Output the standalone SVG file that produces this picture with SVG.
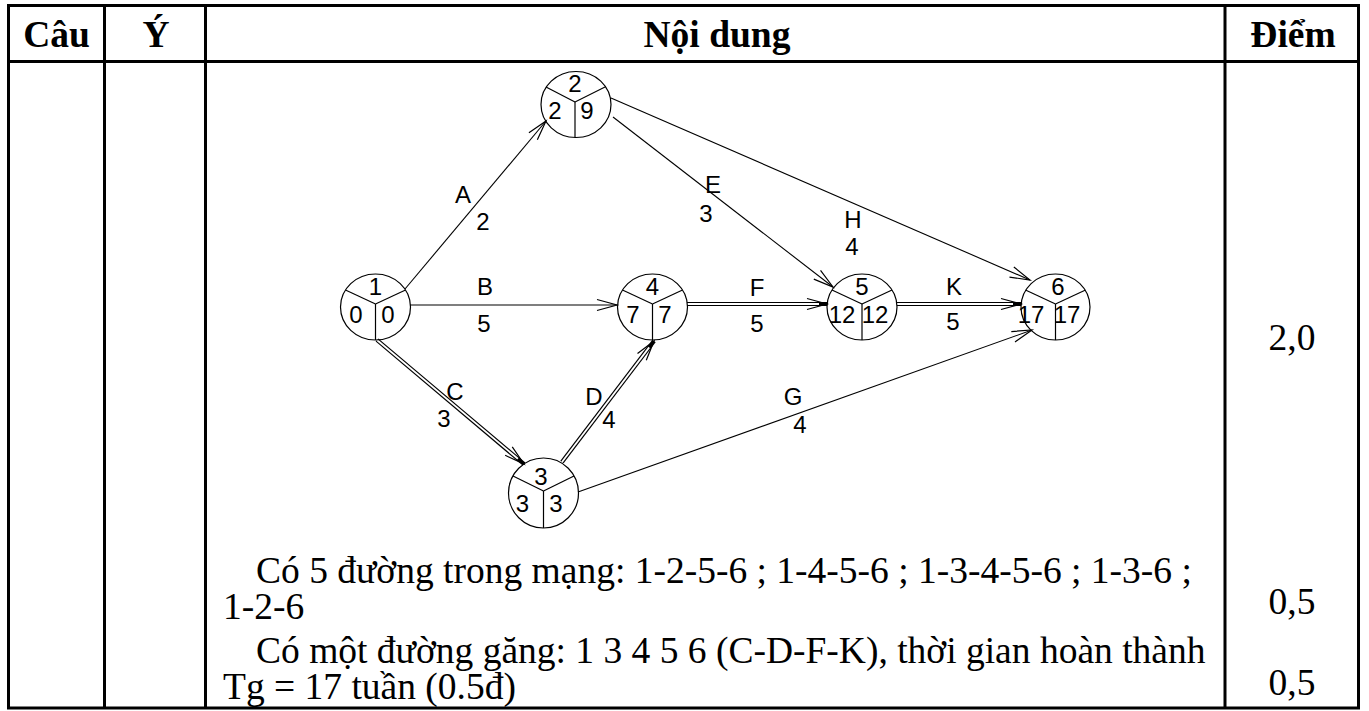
<svg xmlns="http://www.w3.org/2000/svg" width="1369" height="711" viewBox="0 0 1369 711">
<defs>
<style>
.tbl{stroke:#000;stroke-width:3;fill:none}
.hd{font-family:"Liberation Serif","Times New Roman",serif;font-weight:bold;font-size:37.5px;text-anchor:middle}
.bd{font-family:"Liberation Serif","Times New Roman",serif;font-size:37.5px}
.pt{font-family:"Liberation Serif","Times New Roman",serif;font-size:37.5px;text-anchor:middle}
.nd ellipse{fill:none;stroke:#000;stroke-width:1.2}
.nd line{stroke:#000;stroke-width:1.2}
.nd text,.lb{font-family:"Liberation Sans",Arial,sans-serif;font-size:24px;text-anchor:middle}
.s{stroke:#000;stroke-width:1.1;fill:none}
.d1{stroke:#000;stroke-width:4.2;fill:none}
.d2{stroke:#fff;stroke-width:1.8;fill:none}
</style>
<marker id="arr" markerUnits="userSpaceOnUse" viewBox="-22 -8 24 16" markerWidth="24" markerHeight="16" refX="0" refY="0" orient="auto" overflow="visible">
<path d="M-20,-5.5 L0,0 L-20,5.5" fill="none" stroke="#000" stroke-width="1.2"/>
</marker>
</defs>
<rect width="1369" height="711" fill="#fff"/>

<g id="table">
<rect class="tbl" x="8.5" y="5.5" width="1350" height="702.5"/>
<line class="tbl" x1="104.5" y1="5.5" x2="104.5" y2="708"/>
<line class="tbl" x1="205.5" y1="5.5" x2="205.5" y2="708"/>
<line class="tbl" x1="1225" y1="5.5" x2="1225" y2="708"/>
<line class="tbl" x1="8.5" y1="61.5" x2="1358.5" y2="61.5"/>
<text class="hd" x="56.5" y="47">Câu</text>
<text class="hd" x="156" y="47">Ý</text>
<text class="hd" x="717" y="47">Nội dung</text>
<text class="hd" x="1293" y="47">Điểm</text>
<text class="pt" x="1292" y="350">2,0</text>
<text class="pt" x="1292" y="614">0,5</text>
<text class="pt" x="1292" y="695">0,5</text>
<text class="bd" x="256" y="583">Có 5 đường trong mạng: 1-2-5-6 ; 1-4-5-6 ; 1-3-4-5-6 ; 1-3-6 ;</text>
<text class="bd" x="223" y="619">1-2-6</text>
<text class="bd" x="256" y="663">Có một đường găng: 1 3 4 5 6 (C-D-F-K), thời gian hoàn thành</text>
<text class="bd" x="223" y="699">Tg = 17 tuần (0.5đ)</text>
</g>

<g id="connectors">
<path class="s" d="M405,289 L546,121" marker-end="url(#arr)"/>
<path class="s" d="M410,305 L617,305" marker-end="url(#arr)"/>
<path class="d1" d="M377,340 L524,464" marker-end="url(#arr)"/>
<path class="d2" d="M377,340 L517.9,458.8"/>
<path class="d1" d="M562,462 L654,341" marker-end="url(#arr)"/>
<path class="d2" d="M562,462 L649.2,347.4"/>
<path class="s" d="M613,117 L833,287" marker-end="url(#arr)"/>
<path class="s" d="M611,98 L1030,280" marker-end="url(#arr)"/>
<path class="d1" d="M687,304 L827,304" marker-end="url(#arr)"/>
<path class="d2" d="M687,304 L819,304"/>
<path class="d1" d="M897,304 L1021,304" marker-end="url(#arr)"/>
<path class="d2" d="M897,304 L1013,304"/>
<path class="s" d="M578,492 L1032,330" marker-end="url(#arr)"/>
<text class="lb" x="463" y="203">A</text>
<text class="lb" x="483" y="230">2</text>
<text class="lb" x="485" y="295">B</text>
<text class="lb" x="484" y="332">5</text>
<text class="lb" x="455" y="400">C</text>
<text class="lb" x="444" y="427">3</text>
<text class="lb" x="594" y="405">D</text>
<text class="lb" x="609" y="428">4</text>
<text class="lb" x="713" y="193">E</text>
<text class="lb" x="706" y="222">3</text>
<text class="lb" x="853" y="228">H</text>
<text class="lb" x="852" y="255">4</text>
<text class="lb" x="757" y="296">F</text>
<text class="lb" x="757" y="332">5</text>
<text class="lb" x="954" y="295">K</text>
<text class="lb" x="953" y="330">5</text>
<text class="lb" x="793" y="405">G</text>
<text class="lb" x="800" y="433">4</text>
</g>

<g id="node1" class="nd">
<ellipse cx="375.5" cy="307" rx="35" ry="33"/>
<line x1="375.5" y1="304" x2="345.5" y2="290"/><line x1="375.5" y1="304" x2="405.5" y2="290"/><line x1="375.5" y1="304" x2="375.5" y2="340"/>
<text x="375.5" y="295">1</text><text x="356" y="323">0</text><text x="388" y="323">0</text>
</g>
<g id="node2" class="nd">
<ellipse cx="576" cy="104.5" rx="35" ry="33"/>
<line x1="575" y1="102" x2="546" y2="87"/><line x1="575" y1="102" x2="605" y2="87"/><line x1="575" y1="102" x2="575" y2="137.5"/>
<text x="575" y="92">2</text><text x="555" y="119">2</text><text x="587" y="119">9</text>
</g>
<g id="node3" class="nd">
<ellipse cx="543.5" cy="493" rx="35" ry="35"/>
<line x1="543.5" y1="491" x2="513" y2="476"/><line x1="543.5" y1="491" x2="574" y2="476"/><line x1="543.5" y1="491" x2="543.5" y2="528"/>
<text x="541" y="485">3</text><text x="522.5" y="512">3</text><text x="556" y="512">3</text>
</g>
<g id="node4" class="nd">
<ellipse cx="652.5" cy="307" rx="35" ry="33"/>
<line x1="652.5" y1="304" x2="622.5" y2="290"/><line x1="652.5" y1="304" x2="682.5" y2="290"/><line x1="652.5" y1="304" x2="652.5" y2="340"/>
<text x="652.5" y="295">4</text><text x="633" y="323">7</text><text x="665" y="323">7</text>
</g>
<g id="node5" class="nd">
<ellipse cx="862" cy="307" rx="35" ry="33"/>
<line x1="862" y1="304" x2="832" y2="290"/><line x1="862" y1="304" x2="892" y2="290"/><line x1="862" y1="304" x2="862" y2="340"/>
<text x="862" y="295">5</text><text x="842" y="323">12</text><text x="875" y="323">12</text>
</g>
<g id="node6" class="nd">
<ellipse cx="1055.5" cy="307" rx="34.5" ry="33"/>
<line x1="1055.5" y1="304" x2="1025.5" y2="290"/><line x1="1055.5" y1="304" x2="1085.5" y2="290"/><line x1="1055.5" y1="304" x2="1055.5" y2="340"/>
<text x="1058" y="295">6</text><text x="1031" y="323">17</text><text x="1067" y="323">17</text>
</g>
</svg>
